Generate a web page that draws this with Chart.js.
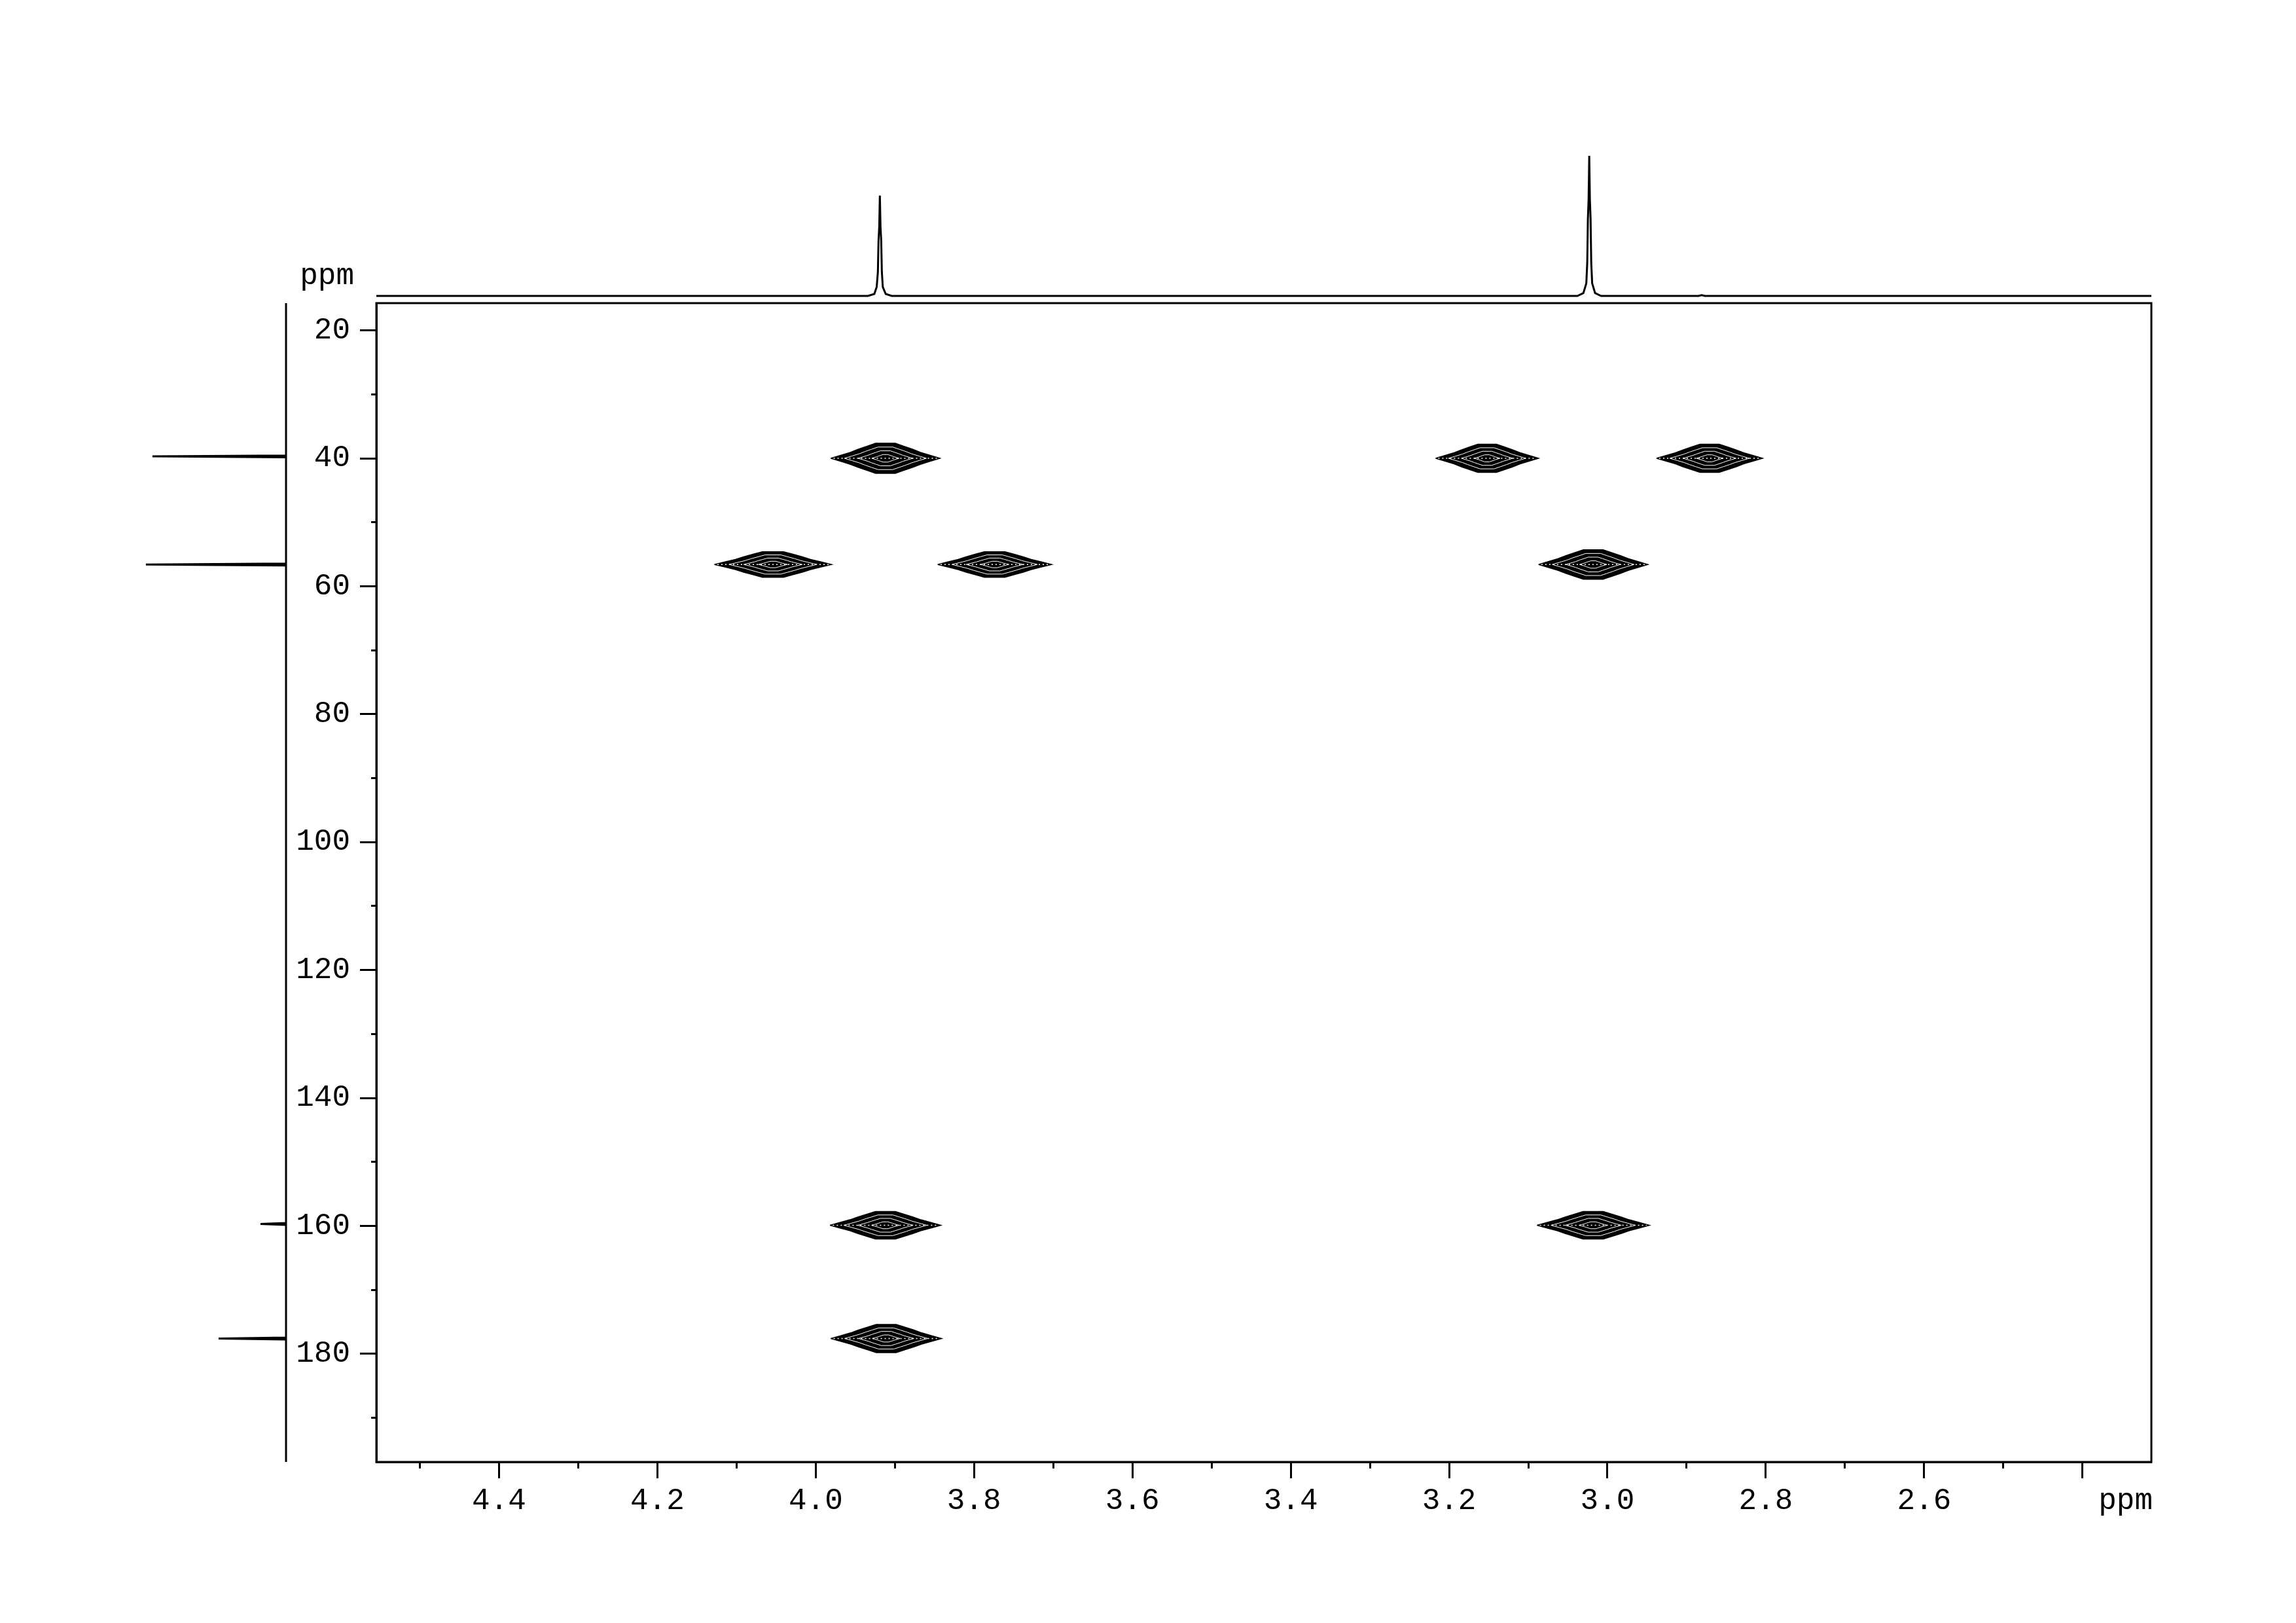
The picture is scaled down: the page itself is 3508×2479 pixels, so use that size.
<!DOCTYPE html>
<html>
<head>
<meta charset="utf-8">
<script src="https://cdn.jsdelivr.net/npm/chart.js@4.4.1/dist/chart.umd.min.js"></script>
<style>
    html, body { margin: 0; padding: 0; background: #fff; }
    #wrap { position: relative; width: 3508px; height: 2479px; }
    canvas { position: absolute; }
</style>
</head>
<body>
<div id="wrap">
    <canvas id="hsqc" width="3508" height="2479" style="left:0;top:0;width:3508px;height:2479px"></canvas>
    <canvas id="f2proj" width="2712" height="236" style="left:575px;top:225px;width:2712px;height:236px"></canvas>
    <canvas id="f1proj" width="262" height="1786" style="left:180px;top:455px;width:262px;height:1786px"></canvas>
</div>
<script>
// axis ranges (ppm), both axes run "backwards" as usual for NMR
const f2Range = [2.313, 4.555];
const f1Range = [15.74, 196.9];

// tick labels
const xMajorTicks = [4.4, 4.2, 4.0, 3.8, 3.6, 3.4, 3.2, 3.0, 2.8, 2.6, 2.4];
const xTickLabels = ['4.4', '4.2', '4.0', '3.8', '3.6', '3.4', '3.2', '3.0', '2.8', '2.6', ''];
const xMinorTicks = [4.5, 4.3, 4.1, 3.9, 3.7, 3.5, 3.3, 3.1, 2.9, 2.7, 2.5];
const yMajorTicks = [20, 40, 60, 80, 100, 120, 140, 160, 180];
const yTickLabels = ['20', '40', '60', '80', '100', '120', '140', '160', '180'];
const yMinorTicks = [30, 50, 70, 90, 110, 130, 150, 170, 190];
const unitLabel = 'ppm';

// cross peaks: F2 (1H) shift, F1 (13C) shift, half widths in ppm
const crossF2 = [3.912, 4.054, 3.774, 3.152, 2.871, 3.018, 3.912, 3.018, 3.911];
const crossF1 = [40.0, 56.6, 56.6, 40.0, 40.0, 56.6, 159.9, 159.9, 177.6];
const crossW2 = [0.069, 0.074, 0.072, 0.065, 0.067, 0.069, 0.070, 0.071, 0.070];
const crossW1 = [2.35, 2.0, 2.0, 2.2, 2.2, 2.3, 2.15, 2.15, 2.2];

// 1H projection (top)
const specPpm = [4.555, 3.934, 3.926, 3.923, 3.9215, 3.9207, 3.9198, 3.919, 3.9182, 3.9173, 3.9165, 3.9153, 3.9116, 3.904,
                 3.038, 3.0304, 3.0267, 3.0255, 3.0247, 3.0238, 3.023, 3.0222, 3.0213, 3.0205, 3.0193, 3.0156, 3.008,
                 2.885, 2.881, 2.877, 2.313];
const specInt = [0, 0, 1.4, 6.4, 17.2, 39.4, 49.4, 71.6, 49.4, 39.4, 17.2, 6.4, 1.4, 0,
                 0, 2, 9, 24, 55, 69, 100, 69, 55, 24, 9, 2, 0,
                 0, 0.6, 0, 0];

// 13C projection (left)
const projPpm = [15.74, 39.55, 39.7, 39.85, 56.45, 56.6, 56.75, 159.55, 159.7, 159.85, 177.45, 177.6, 177.75, 196.9];
const projInt = [0, 0, 95.3, 0, 0, 100, 0, 0, 18.2, 0, 0, 48.1, 0, 0];

// outline of one contour level (upper right quarter), relative to the half widths
const contourShape = [[1, 0], [0.82, 0.2], [0.64, 0.4], [0.5, 0.6], [0.34, 0.8], [0.18, 1]];
const innerLevels = [0.75, 0.5, 0.25];

Chart.defaults.font.family = "'Liberation Mono', 'DejaVu Sans Mono', monospace";
Chart.defaults.color = '#000';

const tickFont = { size: 46, family: "'Liberation Mono', 'DejaVu Sans Mono', monospace" };

const common = {
    responsive: false,
    animation: false,
    devicePixelRatio: 1,
    events: [],
    plugins: { legend: { display: false }, tooltip: { enabled: false } }
};

function contourPoints(i, s) {
    const cx = crossF2[i], cy = crossF1[i];
    const wx = crossW2[i] * s, wy = crossW1[i] * s;
    const pts = [];
    contourShape.forEach(function (p) { pts.push({ x: cx + p[0] * wx, y: cy - p[1] * wy }); });
    for (let k = contourShape.length - 1; k >= 0; k--) {
        pts.push({ x: cx - contourShape[k][0] * wx, y: cy - contourShape[k][1] * wy });
    }
    contourShape.forEach(function (p) { pts.push({ x: cx - p[0] * wx, y: cy + p[1] * wy }); });
    for (let k = contourShape.length - 1; k >= 0; k--) {
        pts.push({ x: cx + contourShape[k][0] * wx, y: cy + contourShape[k][1] * wy });
    }
    pts.push(pts[0]);
    return pts;
}

// outer contour filled black underneath (higher order = drawn first), inner levels in white on top
const contourSets = [];
crossF2.forEach(function (_, i) {
    contourSets.push({
        data: contourPoints(i, 1), order: 2,
        showLine: true, fill: 'shape', tension: 0,
        backgroundColor: '#000', borderColor: '#000', borderWidth: 1.5, pointRadius: 0
    });
    innerLevels.forEach(function (s) {
        contourSets.push({
            data: contourPoints(i, s), order: 1,
            showLine: true, fill: false, tension: 0,
            borderColor: '#fff', borderWidth: 1, pointRadius: 0
        });
    });
    // the dense middle row looks checkered in the plot
    contourSets.push({
        data: [{ x: crossF2[i] + crossW2[i] * 0.95, y: crossF1[i] }, { x: crossF2[i] - crossW2[i] * 0.95, y: crossF1[i] }],
        order: 0, showLine: true, fill: false, tension: 0,
        borderColor: '#fff', borderWidth: 1.5, borderDash: [2, 4], pointRadius: 0
    });
});

const framePlugin = {
    id: 'frame',
    afterDraw(chart) {
        const ctx = chart.ctx, a = chart.chartArea;
        ctx.save();
        ctx.lineWidth = 3;
        ctx.strokeStyle = '#000';
        ctx.strokeRect(a.left, a.top, a.right - a.left, a.bottom - a.top);
        ctx.fillStyle = '#000';
        ctx.font = "46px 'Liberation Mono', 'DejaVu Sans Mono', monospace";
        ctx.textAlign = 'right';
        ctx.textBaseline = 'middle';
        ctx.fillText(unitLabel, a.right + 2, chart.scales.x.top + 25 + 7 + 27.6);
        ctx.textBaseline = 'alphabetic';
        ctx.fillText(unitLabel, a.left - 34, a.top - 29);
        ctx.restore();
    }
};

new Chart(document.getElementById('hsqc'), {
    type: 'scatter',
    data: { datasets: contourSets },
    options: Object.assign({}, common, {
        layout: { padding: { left: 425, right: 221, top: 463, bottom: 126 } },
        scales: {
            x: {
                type: 'linear', min: f2Range[0], max: f2Range[1], reverse: true,
                afterFit(s) { s.height = 120; },
                afterBuildTicks(s) {
                    s.ticks = xMajorTicks.concat(xMinorTicks).sort((a, b) => a - b).map(v => ({ value: v }));
                },
                ticks: {
                    autoSkip: false, maxRotation: 0, padding: 7, font: tickFont, color: '#000',
                    callback(v) {
                        const i = xMajorTicks.indexOf(v);
                        return i >= 0 ? xTickLabels[i] : '';
                    }
                },
                grid: {
                    display: true, drawOnChartArea: false, drawTicks: true,
                    tickLength: 25, tickWidth: 3, tickColor: '#000',
                    tickBorderDash: c => (c.tick && xMinorTicks.includes(c.tick.value)) ? [8, 40] : [],
                    tickBorderDashOffset: 0
                },
                border: { display: true, color: '#000', width: 3 }
            },
            y: {
                type: 'linear', min: f1Range[0], max: f1Range[1], reverse: true,
                afterFit(s) { s.width = 150; },
                afterBuildTicks(s) {
                    s.ticks = yMajorTicks.concat(yMinorTicks).sort((a, b) => a - b).map(v => ({ value: v }));
                },
                ticks: {
                    autoSkip: false, padding: 15, font: tickFont, color: '#000',
                    callback(v) {
                        const i = yMajorTicks.indexOf(v);
                        return i >= 0 ? yTickLabels[i] : '';
                    }
                },
                grid: {
                    display: true, drawOnChartArea: false, drawTicks: true,
                    tickLength: 25, tickWidth: 3, tickColor: '#000',
                    tickBorderDash: c => (c.tick && yMinorTicks.includes(c.tick.value)) ? [8, 17] : [],
                    tickBorderDashOffset: c => (c.tick && yMinorTicks.includes(c.tick.value)) ? 8 : 0
                },
                border: { display: true, color: '#000', width: 3 }
            }
        }
    }),
    plugins: [framePlugin]
});

// top 1D spectrum
new Chart(document.getElementById('f2proj'), {
    type: 'scatter',
    data: {
        datasets: [{
            data: specPpm.map((x, i) => ({ x: x, y: specInt[i] })),
            showLine: true, tension: 0, clip: false,
            borderColor: '#000', borderWidth: 3, pointRadius: 0
        }]
    },
    options: Object.assign({}, common, {
        layout: { padding: { top: 0, bottom: 9, left: 0, right: 0 } },
        scales: {
            x: { type: 'linear', display: false, min: f2Range[0], max: f2Range[1], reverse: true },
            y: { type: 'linear', display: false, min: 0, max: 106.1 }
        }
    })
});

// left 13C projection
new Chart(document.getElementById('f1proj'), {
    type: 'scatter',
    data: {
        datasets: [{
            data: projPpm.map((y, i) => ({ x: projInt[i], y: y })),
            showLine: true, tension: 0, clip: false,
            borderColor: '#000', borderWidth: 3, pointRadius: 0
        }]
    },
    options: Object.assign({}, common, {
        layout: { padding: { top: 8, bottom: 8, left: 0, right: 5 } },
        scales: {
            x: { type: 'linear', display: false, min: 0, max: 120, reverse: true },
            y: { type: 'linear', display: false, min: f1Range[0], max: f1Range[1], reverse: true }
        }
    })
});
</script>
</body>
</html>
